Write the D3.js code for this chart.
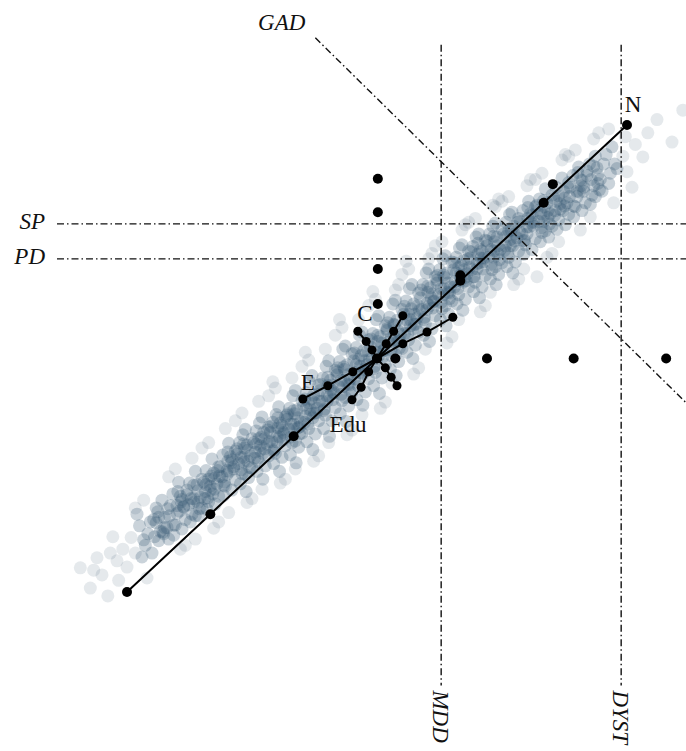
<!DOCTYPE html>
<html>
<head>
<meta charset="utf-8">
<script src="https://cdn.jsdelivr.net/npm/d3@7/dist/d3.min.js"></script>
<style>
  body { margin: 0; background: #fff; }
  text { font-family: "Liberation Serif", "DejaVu Serif", serif; font-size: 23px; fill: #111; }
</style>
</head>
<body>
<svg id="chart" width="686" height="751"></svg>
<script>
// nuage de points (coordonnées)
const cloudPoints = [
  [-2.85,-2.15],[-2.78,-2.4],[-2.82,-2.55],[-2.75,-2.25],[-2.88,-2.0],[-2.72,-2.1],[-2.8,-2.33],[-2.7,-2.5],
  [-2.65,-1.92],[-2.6,-2.22],[-2.55,-2.04],[-2.62,-2.34],[-2.58,-1.82],[-2.52,-2.17],[-2.68,-2.07],[-2.5,-2.32],[-2.63,-1.97],[-2.56,-2.25],
  [-2.45,-1.74],[-2.4,-1.99],[-2.35,-1.84],[-2.42,-2.14],[-2.38,-1.59],[-2.32,-1.91],[-2.48,-1.89],[-2.3,-2.07],[-2.44,-2.27],[-2.36,-1.77],[-2.4,-1.89],[-2.34,-2.19],
  [-2.25,-1.6],[-2.2,-1.85],[-2.15,-1.7],[-2.22,-2.0],[-2.18,-1.45],[-2.12,-1.78],[-2.28,-1.75],[-2.1,-1.92],[-2.24,-2.1],[-2.16,-1.62],[-2.2,-1.8],[-2.14,-2.02],[-2.26,-1.88],[-2.1,-1.55],
  [-2.05,-1.44],[-2.0,-1.69],[-1.95,-1.54],[-2.02,-1.84],[-1.98,-1.29],[-1.92,-1.61],[-2.08,-1.59],[-1.9,-1.77],[-2.04,-1.94],[-1.96,-1.47],[-2.0,-1.64],[-1.94,-1.87],[-2.06,-1.71],[-1.9,-1.39],[-1.99,-1.51],[-2.03,-1.79],
  [-1.85,-1.24],[-1.8,-1.49],[-1.75,-1.34],[-1.82,-1.64],[-1.78,-1.09],[-1.72,-1.42],[-1.88,-1.39],[-1.7,-1.56],[-1.84,-1.76],[-1.76,-1.26],[-1.8,-1.44],[-1.74,-1.69],[-1.86,-1.52],[-1.7,-1.19],[-1.79,-1.32],[-1.83,-1.59],
  [-1.65,-1.08],[-1.6,-1.33],[-1.55,-1.18],[-1.62,-1.48],[-1.58,-0.91],[-1.52,-1.25],[-1.68,-1.23],[-1.5,-1.41],[-1.64,-1.61],[-1.56,-1.11],[-1.6,-1.27],[-1.54,-1.53],[-1.66,-1.35],[-1.5,-1.03],[-1.59,-1.15],[-1.63,-1.43],[-1.57,-1.71],[-1.61,-0.98],
  [-1.45,-0.93],[-1.4,-1.18],[-1.35,-1.03],[-1.42,-1.33],[-1.38,-0.75],[-1.32,-1.1],[-1.48,-1.08],[-1.3,-1.25],[-1.44,-1.45],[-1.36,-0.95],[-1.4,-1.12],[-1.34,-1.38],[-1.46,-1.2],[-1.3,-0.88],[-1.39,-1.01],[-1.43,-1.28],[-1.37,-1.55],[-1.41,-0.83],
  [-1.25,-0.82],[-1.2,-1.07],[-1.15,-0.92],[-1.22,-1.22],[-1.18,-0.62],[-1.12,-0.97],[-1.28,-0.95],[-1.1,-1.12],[-1.24,-1.35],[-1.16,-0.83],[-1.2,-1.0],[-1.14,-1.27],[-1.26,-1.07],[-1.1,-0.75],[-1.19,-0.89],[-1.23,-1.17],[-1.17,-1.45],[-1.21,-0.72],[-1.13,-1.05],[-1.27,-0.87],
  [-1.05,-0.64],[-1.0,-0.91],[-0.95,-0.76],[-1.02,-1.08],[-0.98,-0.41],[-0.92,-0.81],[-1.08,-0.78],[-0.9,-0.96],[-1.04,-1.24],[-0.96,-0.66],[-1.0,-0.84],[-0.94,-1.14],[-1.06,-0.91],[-0.9,-0.54],[-0.99,-0.71],[-1.03,-1.01],[-0.97,-1.34],[-1.01,-0.48],[-0.93,-0.88],[-1.07,-0.71],
  [-0.85,-0.44],[-0.8,-0.72],[-0.75,-0.57],[-0.82,-0.9],[-0.78,-0.22],[-0.72,-0.64],[-0.88,-0.6],[-0.7,-0.8],[-0.84,-1.07],[-0.76,-0.47],[-0.8,-0.66],[-0.74,-0.97],[-0.86,-0.74],[-0.7,-0.34],[-0.79,-0.52],[-0.83,-0.84],[-0.77,-1.17],[-0.81,-0.3],[-0.73,-0.7],[-0.87,-0.52],
  [-0.65,-0.25],[-0.6,-0.55],[-0.55,-0.4],[-0.62,-0.73],[-0.58,-0.03],[-0.52,-0.45],[-0.68,-0.41],[-0.5,-0.63],[-0.64,-0.9],[-0.56,-0.28],[-0.6,-0.48],[-0.54,-0.8],[-0.66,-0.55],[-0.5,-0.15],[-0.59,-0.35],[-0.63,-0.65],[-0.57,-1.0],[-0.61,-0.1],[-0.53,-0.53],[-0.67,-0.33],
  [-0.45,-0.04],[-0.4,-0.36],[-0.35,-0.21],[-0.42,-0.54],[-0.38,0.16],[-0.32,-0.26],[-0.48,-0.21],[-0.3,-0.44],[-0.44,-0.71],[-0.36,-0.08],[-0.4,-0.28],[-0.34,-0.61],[-0.46,-0.36],[-0.3,0.06],[-0.39,-0.14],[-0.43,-0.46],[-0.37,-0.81],[-0.41,0.12],[-0.33,-0.34],[-0.47,-0.12],
  [-0.25,0.14],[-0.2,-0.18],[-0.15,-0.03],[-0.22,-0.36],[-0.18,0.34],[-0.12,-0.08],[-0.28,-0.03],[-0.1,-0.26],[-0.24,-0.53],[-0.16,0.1],[-0.2,-0.1],[-0.14,-0.43],[-0.26,-0.18],[-0.1,0.24],[-0.19,0.04],[-0.23,-0.28],[-0.17,-0.6],[-0.21,0.3],[-0.13,-0.16],[-0.27,0.07],
  [-0.05,0.32],[0.0,0.0],[0.05,0.15],[-0.02,-0.18],[0.02,0.55],[0.08,0.1],[-0.08,0.15],[0.1,-0.08],[-0.04,-0.35],[0.04,0.28],[0.0,0.08],[0.06,-0.25],[-0.06,0.0],[0.1,0.42],[0.01,0.22],[-0.03,-0.1],[0.03,-0.45],[-0.01,0.5],[0.07,0.02],[-0.07,0.25],
  [0.15,0.53],[0.2,0.21],[0.25,0.36],[0.18,0.03],[0.22,0.75],[0.28,0.31],[0.12,0.36],[0.3,0.13],[0.16,-0.14],[0.24,0.49],[0.2,0.29],[0.26,-0.04],[0.14,0.21],[0.3,0.63],[0.21,0.43],[0.17,0.11],[0.23,-0.22],[0.19,0.7],[0.27,0.23],[0.13,0.46],
  [0.35,0.74],[0.4,0.42],[0.45,0.57],[0.38,0.24],[0.42,0.95],[0.48,0.52],[0.32,0.57],[0.5,0.34],[0.36,0.08],[0.44,0.7],[0.4,0.5],[0.46,0.17],[0.34,0.42],[0.5,0.84],[0.41,0.64],[0.37,0.32],[0.43,0.0],[0.39,0.9],[0.47,0.44],[0.33,0.67],
  [0.55,0.95],[0.6,0.63],[0.65,0.78],[0.58,0.45],[0.62,1.15],[0.68,0.73],[0.52,0.78],[0.7,0.55],[0.56,0.3],[0.64,0.91],[0.6,0.71],[0.66,0.38],[0.54,0.63],[0.7,1.05],[0.61,0.85],[0.57,0.53],[0.63,0.22],[0.59,1.1],[0.67,0.65],[0.53,0.88],
  [0.75,1.14],[0.8,0.82],[0.85,0.97],[0.78,0.64],[0.82,1.32],[0.88,0.92],[0.72,0.97],[0.9,0.74],[0.76,0.5],[0.84,1.1],[0.8,0.9],[0.86,0.57],[0.74,0.82],[0.9,1.24],[0.81,1.04],[0.77,0.72],[0.83,0.42],[0.79,1.28],[0.87,0.84],[0.73,1.07],
  [0.95,1.3],[1.0,1.0],[1.05,1.14],[0.98,0.82],[1.02,1.46],[1.08,1.09],[0.92,1.14],[1.1,0.92],[0.96,0.7],[1.04,1.26],[1.0,1.07],[1.06,0.76],[0.94,0.99],[1.1,1.38],[1.01,1.2],[0.97,0.9],[1.03,0.62],[0.99,1.42],[1.07,1.0],[0.93,1.23],
  [1.15,1.44],[1.2,1.15],[1.25,1.29],[1.18,0.98],[1.22,1.6],[1.28,1.24],[1.12,1.29],[1.3,1.07],[1.16,0.86],[1.24,1.4],[1.2,1.22],[1.26,0.92],[1.14,1.14],[1.3,1.52],[1.21,1.34],[1.17,1.05],[1.23,0.78],[1.19,1.56],[1.27,1.15],[1.13,1.37],
  [1.35,1.6],[1.4,1.3],[1.45,1.45],[1.38,1.14],[1.42,1.74],[1.48,1.4],[1.32,1.45],[1.5,1.23],[1.36,1.02],[1.44,1.56],[1.4,1.38],[1.46,1.08],[1.34,1.3],[1.5,1.66],[1.41,1.5],[1.37,1.21],[1.43,0.95],[1.39,1.7],
  [1.55,1.75],[1.6,1.45],[1.65,1.6],[1.58,1.3],[1.62,1.88],[1.68,1.55],[1.52,1.6],[1.7,1.38],[1.56,1.18],[1.64,1.7],[1.6,1.53],[1.66,1.24],[1.54,1.45],[1.7,1.8],[1.61,1.65],[1.57,1.36],[1.63,1.1],[1.59,1.85],
  [1.75,1.9],[1.8,1.6],[1.85,1.75],[1.78,1.46],[1.82,2.02],[1.88,1.7],[1.72,1.76],[1.9,1.54],[1.76,1.34],[1.84,1.86],[1.8,1.69],[1.86,1.4],[1.74,1.6],[1.9,1.95],[1.81,1.8],[1.77,1.52],
  [1.95,2.05],[2.0,1.76],[2.05,1.9],[1.98,1.62],[2.02,2.18],[2.08,1.86],[1.92,1.9],[2.1,1.7],[1.96,1.5],[2.04,2.0],[2.0,1.84],[2.06,1.56],[1.94,1.76],[2.1,2.1],[2.01,1.95],[1.97,1.68],
  [2.15,2.2],[2.2,1.92],[2.25,2.06],[2.18,1.78],[2.22,2.32],[2.28,2.0],[2.12,2.06],[2.3,1.85],[2.16,1.66],[2.24,2.15],[2.2,1.99],[2.26,1.72],[2.14,1.9],[2.3,2.26],
  [2.35,2.35],[2.4,2.08],[2.45,2.22],[2.38,1.95],[2.42,2.46],[2.48,2.15],[2.32,2.2],[2.5,2.0],[2.36,1.82],[2.44,2.3],[2.4,2.15],[2.46,1.9],
  [2.55,2.5],[2.6,2.22],[2.65,2.36],[2.58,2.1],[2.62,2.6],[2.68,2.3],[2.52,2.35],[2.7,2.15],[2.56,1.98],[2.64,2.45],
  [2.75,2.62],[2.8,2.38],[2.85,2.5],[2.78,2.25],[2.82,2.72],[2.88,2.44],[2.72,2.5]
];
// coeur dense du nuage
const cloudCore = [
  [-2.67,-2.29],[-2.55,-2.17],[-2.62,-2.04],[-2.51,-1.93],[-2.57,-2.23],[-2.65,-2.11],
  [-2.34,-1.81],[-2.44,-2.14],[-2.32,-1.9],[-2.49,-2.02],[-2.39,-1.71],[-2.37,-1.96],
  [-2.18,-2.02],[-2.28,-1.69],[-2.15,-1.85],[-2.2,-1.63],[-2.23,-1.8],[-2.13,-1.93],
  [-2.07,-1.8],[-1.95,-1.68],[-2.02,-1.55],[-1.91,-1.44],[-1.97,-1.74],[-2.05,-1.62],
  [-1.74,-1.3],[-1.84,-1.63],[-1.72,-1.39],[-1.89,-1.51],[-1.79,-1.2],[-1.77,-1.45],
  [-1.58,-1.49],[-1.68,-1.16],[-1.55,-1.32],[-1.6,-1.1],[-1.63,-1.27],[-1.53,-1.4],
  [-1.47,-1.28],[-1.35,-1.16],[-1.42,-1.03],[-1.31,-0.92],[-1.37,-1.22],[-1.45,-1.1],
  [-1.14,-0.86],[-1.24,-1.19],[-1.12,-0.95],[-1.29,-1.07],[-1.19,-0.76],[-1.17,-1.01],
  [-0.98,-1.06],[-1.08,-0.73],[-0.95,-0.89],[-1.0,-0.67],[-1.03,-0.84],[-0.93,-0.97],
  [-0.87,-0.82],[-0.75,-0.7],[-0.82,-0.57],[-0.71,-0.46],[-0.77,-0.76],[-0.85,-0.64],
  [-0.54,-0.34],[-0.64,-0.67],[-0.52,-0.43],[-0.69,-0.55],[-0.59,-0.24],[-0.57,-0.49],
  [-0.38,-0.5],[-0.48,-0.17],[-0.35,-0.33],[-0.4,-0.11],[-0.43,-0.28],[-0.33,-0.41],
  [-0.27,-0.26],[-0.15,-0.14],[-0.22,-0.01],[-0.11,0.1],[-0.17,-0.2],[-0.25,-0.08],
  [0.06,0.2],[-0.04,-0.13],[0.08,0.11],[-0.09,-0.01],[0.01,0.3],[0.03,0.05],
  [0.22,0.05],[0.12,0.38],[0.25,0.22],[0.2,0.44],[0.17,0.27],[0.27,0.14],
  [0.33,0.32],[0.45,0.44],[0.38,0.57],[0.49,0.68],[0.43,0.38],[0.35,0.5],
  [0.66,0.83],[0.56,0.5],[0.68,0.74],[0.51,0.62],[0.61,0.93],[0.63,0.68],
  [0.82,0.68],[0.72,1.01],[0.85,0.85],[0.8,1.07],[0.77,0.9],[0.87,0.77],
  [0.93,0.92],[1.05,1.04],[0.98,1.17],[1.09,1.28],[1.03,0.98],[0.95,1.1],
  [1.26,1.38],[1.16,1.05],[1.28,1.29],[1.11,1.17],[1.21,1.48],[1.23,1.23],
  [1.42,1.18],[1.32,1.51],[1.45,1.35],[1.4,1.57],[1.37,1.4],[1.47,1.27],
  [1.53,1.39],[1.65,1.51],[1.58,1.64],[1.69,1.75],[1.63,1.45],[1.55,1.57],
  [1.86,1.84],[1.76,1.51],[1.88,1.75],[1.71,1.63],[1.81,1.94],[1.83,1.69],
  [2.02,1.64],[1.92,1.97],[2.05,1.81],[2.0,2.03],[1.97,1.86],[2.07,1.73],
  [2.13,1.84],[2.25,1.96],[2.18,2.09],[2.29,2.2],[2.23,1.9],[2.15,2.02],
  [2.46,2.29],[2.36,1.96],[2.48,2.2],[2.31,2.08],[2.41,2.39],[2.43,2.14],
  [2.62,2.08],[2.52,2.41],[2.65,2.25],[2.6,2.47],[2.57,2.3],[2.67,2.17]
];
// points clairsemés en bordure du nuage
const cloudEdge = [
  [-3.56,-2.69],[-3.44,-2.95],[-3.23,-3.05],[-3.36,-2.56],[-3.17,-2.29],[-3.3,-2.78],[-3.12,-2.6],[-3.4,-2.72],[-3.05,-2.45],[-3.2,-2.5],[-3.0,-2.68],[-2.95,-2.3],[-3.1,-2.85],[-2.9,-2.5],
  [-2.8,-1.82],[-2.76,-2.82],[-2.9,-1.92],
  [-2.42,-1.42],[-2.36,-2.45],[-2.5,-1.52],[-2.3,-2.4],
  [-2.22,-1.28],[-2.18,-2.32],
  [-2.02,-1.08],[-1.96,-2.18],[-2.1,-1.15],[-1.9,-2.1],
  [-1.82,-0.9],[-1.78,-1.98],
  [-1.62,-0.7],[-1.56,-1.85],[-1.7,-0.8],[-1.5,-1.8],
  [-1.42,-0.55],[-1.38,-1.68],
  [-1.22,-0.38],[-1.16,-1.6],[-1.3,-0.48],[-1.1,-1.55],[-1.25,-0.3],
  [-1.02,-0.25],[-0.98,-1.42],
  [-0.82,-0.02],[-0.76,-1.32],[-0.9,-0.1],[-0.7,-1.25],[-0.86,0.08],
  [-0.62,0.12],[-0.58,-1.08],
  [-0.42,0.4],[-0.36,-0.98],[-0.5,0.3],[-0.3,-0.92],[-0.45,0.5],
  [-0.22,0.5],[-0.18,-0.72],
  [-0.02,0.76],[0.04,-0.64],[-0.1,0.68],[0.1,-0.56],[-0.05,0.86],
  [0.22,0.88],[0.18,-0.32],[0.26,0.95],
  [0.38,1.15],[0.44,-0.2],[0.3,1.08],[0.5,-0.12],[0.35,1.25],
  [0.62,1.28],[0.58,0.12],[0.66,1.35],
  [0.78,1.5],[0.84,0.2],[0.7,1.45],[0.9,0.28],
  [1.02,1.65],[0.98,0.5],[1.06,1.72],
  [1.18,1.8],[1.24,0.6],[1.1,1.75],[1.3,0.68],
  [1.42,1.95],[1.36,0.85],[1.46,2.05],
  [1.58,2.08],[1.64,0.95],[1.5,2.02],[1.7,1.02],
  [1.8,2.22],[1.76,1.15],[1.84,2.3],
  [1.98,2.38],[2.04,1.3],[1.9,2.3],[2.1,1.35],
  [2.22,2.55],[2.18,1.5],[2.26,2.62],
  [2.38,2.68],[2.44,1.65],[2.3,2.6],
  [2.6,2.82],[2.56,1.82],[2.66,2.9],
  [2.78,2.95],[2.84,2.0],
  [3.06,2.2],[3.19,2.59],[3.36,3.07],[3.54,2.78],[3.67,3.19],[2.95,2.6],[3.0,2.4],[3.1,2.75],[2.98,2.85],[3.25,2.9],
  [1.92,1.05],[1.39,1.97]
];

// ligne principale N
const nLine = [[-3,-3],[-2,-2],[-1,-1],[0,0],[1,1],[2,2],[3,3]];
// lignes courtes qui se croisent au centre
const cLine = [[-0.23,0.35],[-0.13,0.22],[-0.06,0.11],[0,0],[0.10,-0.12],[0.17,-0.24],[0.24,-0.35]];
const eduLine = [[0.31,0.55],[0.20,0.35],[0.11,0.19],[0,0],[-0.10,-0.17],[-0.19,-0.37],[-0.30,-0.53]];
const eLine = [[-0.89,-0.52],[-0.59,-0.35],[-0.29,-0.17],[0,0],[0.31,0.19],[0.60,0.34],[0.91,0.53]];
// points isolés
const extraDots = [[1.0,1.07],[2.11,2.24],[0.01,2.31],[0.01,1.88],[0.01,1.15],[0.01,0.70],[0.22,0.0],[1.32,0.0],[2.36,0.0],[3.47,0.0]];

// droites de référence
const vLines = [{ label: "MDD", x: 0.77 }, { label: "DYST", x: 2.93 }];
const hLines = [{ label: "SP", y: 1.73 }, { label: "PD", y: 1.28 }];
const gadLine = [[-0.74, 4.12], [3.72, -0.58]];
const vExtent = [4.03, -4.2];
const hExtent = [-3.84, 3.72];

const svg = d3.select("#chart");
const x = d3.scaleLinear().domain([-3, 3]).range([127, 627]);
const y = d3.scaleLinear().domain([-3, 3]).range([592, 125]);
const dash = "7,3,1.5,3";

// nuage
function drawCloud(pts, opacity) {
  svg.append("g").selectAll("circle")
    .data(pts)
    .enter().append("circle")
    .attr("cx", d => x(d[0]))
    .attr("cy", d => y(d[1]))
    .attr("r", 6.5)
    .attr("fill", "#33566f")
    .attr("fill-opacity", opacity);
}
drawCloud(cloudEdge, 0.13);
drawCloud(cloudPoints, 0.26);
drawCloud(cloudCore, 0.26);

// lignes de référence
const ref = svg.append("g").attr("stroke", "#111").attr("stroke-width", 1.4).attr("stroke-dasharray", dash);
vLines.forEach(function (d) {
  ref.append("line").attr("x1", x(d.x)).attr("x2", x(d.x)).attr("y1", y(vExtent[0])).attr("y2", y(vExtent[1]));
  svg.append("text")
    .attr("transform", `translate(${x(d.x) - 8}, ${y(vExtent[1]) + 5}) rotate(90)`)
    .attr("font-style", "italic")
    .text(d.label);
});
hLines.forEach(function (d) {
  ref.append("line").attr("x1", x(hExtent[0])).attr("x2", x(hExtent[1])).attr("y1", y(d.y)).attr("y2", y(d.y));
  svg.append("text")
    .attr("x", x(hExtent[0]) - 12).attr("y", y(d.y) + 5)
    .attr("text-anchor", "end")
    .attr("font-style", "italic")
    .text(d.label);
});
ref.append("line")
  .attr("x1", x(gadLine[0][0])).attr("y1", y(gadLine[0][1]))
  .attr("x2", x(gadLine[1][0])).attr("y2", y(gadLine[1][1]));
svg.append("text")
  .attr("x", x(gadLine[0][0]) - 10).attr("y", y(gadLine[0][1]) - 8)
  .attr("text-anchor", "end")
  .attr("font-style", "italic")
  .text("GAD");

// lignes avec points
const line = d3.line().x(d => x(d[0])).y(d => y(d[1]));
[nLine, cLine, eduLine, eLine].forEach(function (pts, i) {
  svg.append("path")
    .attr("d", line(pts))
    .attr("fill", "none")
    .attr("stroke", "#000")
    .attr("stroke-width", 2);
  svg.append("g").selectAll("circle")
    .data(pts)
    .enter().append("circle")
    .attr("cx", d => x(d[0]))
    .attr("cy", d => y(d[1]))
    .attr("r", i === 0 ? 5 : 4.5)
    .attr("fill", "#000");
});
svg.append("g").selectAll("circle")
  .data(extraDots)
  .enter().append("circle")
  .attr("cx", d => x(d[0]))
  .attr("cy", d => y(d[1]))
  .attr("r", 5)
  .attr("fill", "#000");

// étiquettes des lignes
const labels = [
  { text: "N", p: nLine[6], dx: 6, dy: -13 },
  { text: "C", p: cLine[0], dx: 7, dy: -10 },
  { text: "E", p: eLine[0], dx: 5, dy: -9 },
  { text: "Edu", p: eduLine[6], dx: -4, dy: 32 }
];
svg.append("g").selectAll("text")
  .data(labels)
  .enter().append("text")
  .attr("x", d => x(d.p[0]) + d.dx)
  .attr("y", d => y(d.p[1]) + d.dy)
  .attr("text-anchor", "middle")
  .text(d => d.text);
</script>
</body>
</html>
